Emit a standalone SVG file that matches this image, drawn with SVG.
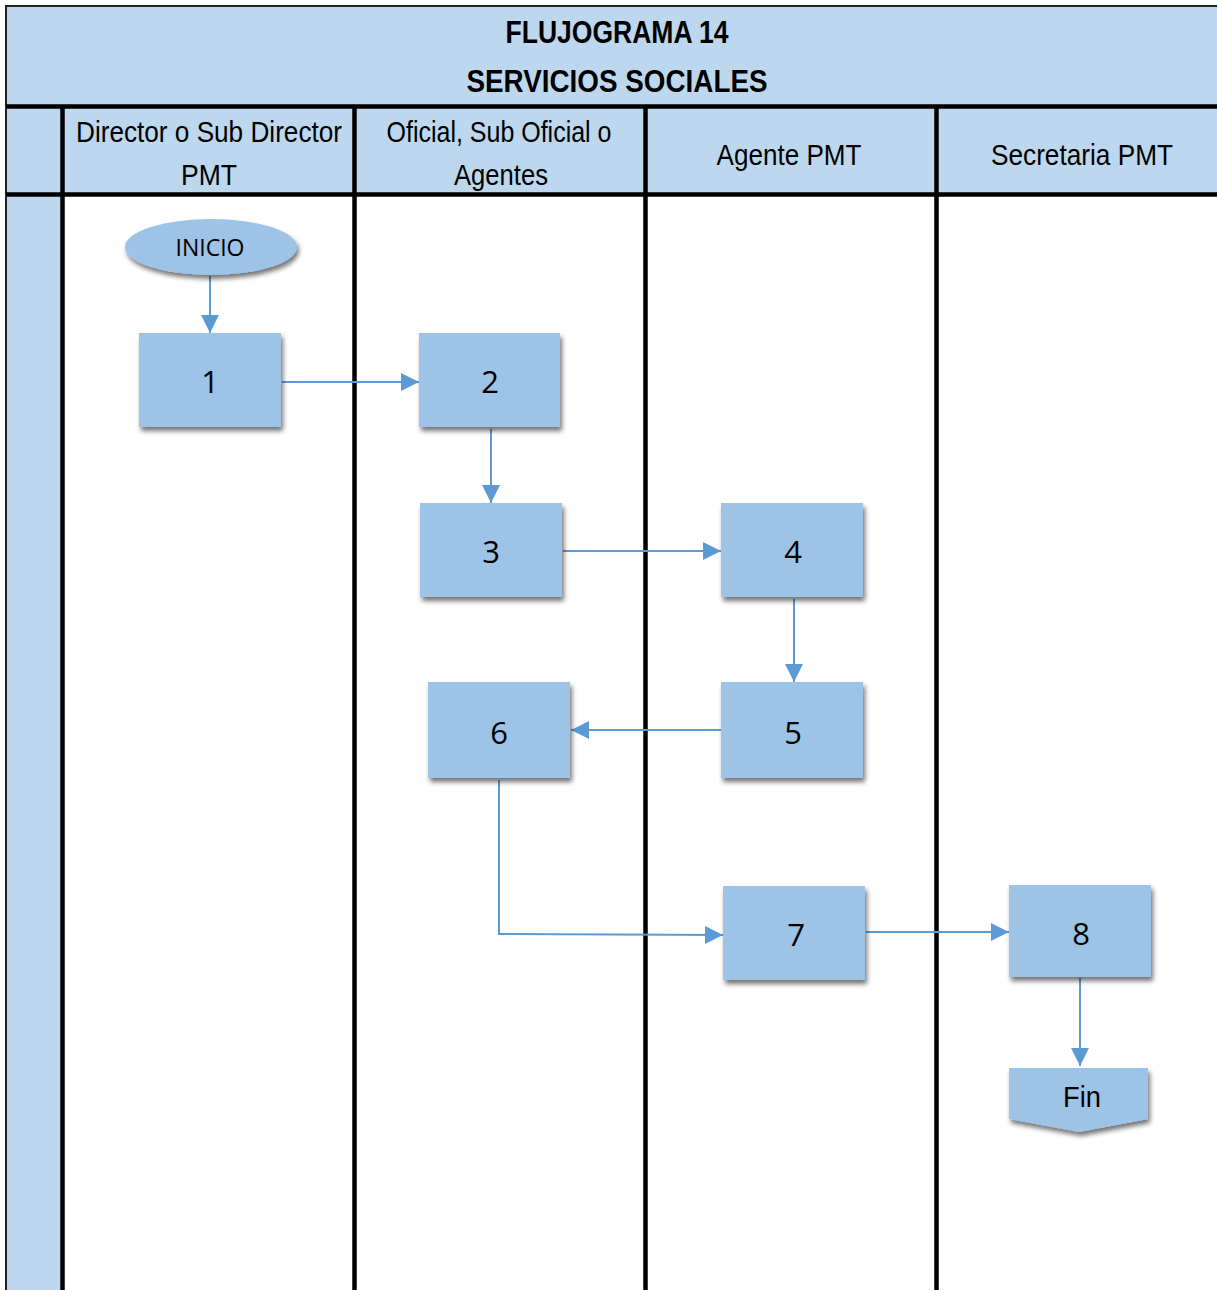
<svg xmlns="http://www.w3.org/2000/svg" width="1217" height="1290" viewBox="0 0 1217 1290">
<style>
.hdr{fill:#BDD7EE}
.grid{stroke:#000;stroke-width:4.5;fill:none}
.node{fill:#9DC3E6;filter:url(#sh)}
.num{font-family:"Open Sans","Noto Sans",sans-serif;font-size:31px;fill:#000;text-anchor:middle}
.lane{font-family:"Liberation Sans",Arial,sans-serif;font-size:30px;fill:#000;text-anchor:middle}
.title{font-family:"Liberation Sans",Arial,sans-serif;font-size:31px;font-weight:bold;fill:#000;text-anchor:middle}
.conn{stroke:#5B9BD5;stroke-width:2;fill:none;marker-end:url(#ah)}
</style>
<defs>
<marker id="ah" viewBox="0 0 10 10" refX="10" refY="5" markerWidth="18" markerHeight="18" markerUnits="userSpaceOnUse" orient="auto">
<path d="M0,0 L10,5 L0,10 z" fill="#5B9BD5"/>
</marker>
<filter id="sh" x="-20%" y="-20%" width="150%" height="160%">
<feGaussianBlur in="SourceAlpha" stdDeviation="2.5"/>
<feOffset dx="2" dy="4" result="b"/>
<feComponentTransfer><feFuncA type="linear" slope="0.55"/></feComponentTransfer>
<feMerge><feMergeNode/><feMergeNode in="SourceGraphic"/></feMerge>
</filter>
</defs>
<rect width="1217" height="1290" fill="#fff"/>
<g id="frame">
<rect class="hdr" x="6" y="6" width="1211" height="190"/>
<rect class="hdr" x="6" y="196" width="56" height="1094"/>
<path d="M6,1290 V6 H1217" stroke="#222" stroke-width="2" fill="none"/>
<path class="grid" d="M6,106.5 H1217 M6,194.5 H1217 M62.5,108 V1290 M354.5,108 V1290 M645.5,108 V1290 M936.5,108 V1290"/>
</g>
<g id="title">
<text class="title" x="617" y="43" textLength="223" lengthAdjust="spacingAndGlyphs">FLUJOGRAMA 14</text>
<text class="title" x="617" y="92" textLength="301" lengthAdjust="spacingAndGlyphs">SERVICIOS SOCIALES</text>
</g>
<g id="lanes">
<text class="lane" x="209" y="142" textLength="266" lengthAdjust="spacingAndGlyphs">Director o Sub Director</text>
<text class="lane" x="209" y="185" textLength="56" lengthAdjust="spacingAndGlyphs">PMT</text>
<text class="lane" x="499" y="142" textLength="225" lengthAdjust="spacingAndGlyphs">Oficial, Sub Oficial o</text>
<text class="lane" x="501" y="185" textLength="94" lengthAdjust="spacingAndGlyphs">Agentes</text>
<text class="lane" x="789" y="165" textLength="145" lengthAdjust="spacingAndGlyphs">Agente PMT</text>
<text class="lane" x="1082" y="165" textLength="182" lengthAdjust="spacingAndGlyphs">Secretaria PMT</text>
</g>
<g id="connectors">
<path class="conn" d="M210,276 V333"/>
<path class="conn" d="M282,382 H419"/>
<path class="conn" d="M491,429 V503"/>
<path class="conn" d="M563,551 H721"/>
<path class="conn" d="M794,599 V682"/>
<path class="conn" d="M724,730 H571"/>
<path class="conn" d="M499,780 V934 L723,935"/>
<path class="conn" d="M866,932 H1009"/>
<path class="conn" d="M1080,978 V1066"/>
</g>
<g id="n-inicio">
<ellipse class="node" cx="211" cy="247" rx="86" ry="28"/>
<text x="210" y="256" font-family="'Open Sans','Noto Sans',sans-serif" font-size="23" text-anchor="middle">INICIO</text>
</g>
<g id="n1"><rect class="node" x="139" y="333" width="142" height="94"/><text class="num" x="210" y="393">1</text></g>
<g id="n2"><rect class="node" x="419" y="333" width="141" height="94"/><text class="num" x="490" y="393">2</text></g>
<g id="n3"><rect class="node" x="420" y="503" width="142" height="94"/><text class="num" x="491" y="563">3</text></g>
<g id="n4"><rect class="node" x="721" y="503" width="142" height="94"/><text class="num" x="793" y="563">4</text></g>
<g id="n5"><rect class="node" x="721" y="682" width="142" height="96"/><text class="num" x="793" y="744">5</text></g>
<g id="n6"><rect class="node" x="428" y="682" width="142" height="96"/><text class="num" x="499" y="744">6</text></g>
<g id="n7"><rect class="node" x="723" y="886" width="142" height="94"/><text class="num" x="796" y="946">7</text></g>
<g id="n8"><rect class="node" x="1009" y="885" width="142" height="92"/><text class="num" x="1081" y="945">8</text></g>
<g id="n-fin">
<path class="node" d="M1009,1068 H1148 V1119 L1079,1132 L1009,1119 Z"/>
<text class="lane" x="1082" y="1107" font-size="33" textLength="38" lengthAdjust="spacingAndGlyphs">Fin</text>
</g>
</svg>
